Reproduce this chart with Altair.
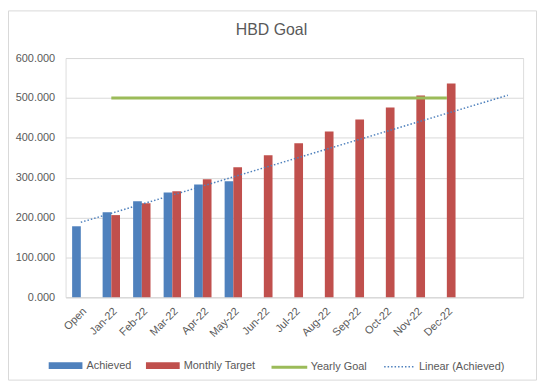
import altair as alt
import numpy as np
import pandas as pd

# ---- data ----
categories = ["Open", "Jan-22", "Feb-22", "Mar-22", "Apr-22", "May-22", "Jun-22",
              "Jul-22", "Aug-22", "Sep-22", "Oct-22", "Nov-22", "Dec-22", " ", "  "]
achieved = [178, 213, 241, 263, 283, 291, None, None, None, None, None, None, None, None, None]
monthly_target = [None, 206, 236, 266, 296, 326, 356, 386, 416, 446, 476, 506, 536, None, None]
yearly_goal = 500
goal_categories = categories[1:13]
y_ticks = [0, 100, 200, 300, 400, 500, 600]
series_names = ["Achieved", "Monthly Target"]
goal_name = "Yearly Goal"
trend_name = "Linear (Achieved)"

# ---- tables ----
rows = []
for c, a, t in zip(categories, achieved, monthly_target):
    if a is not None:
        rows.append({"cat": c, "series": "Achieved", "value": a})
    if t is not None:
        rows.append({"cat": c, "series": "Monthly Target", "value": t})
bars_df = pd.DataFrame(rows)

goal_df = pd.DataFrame({"cat": goal_categories, "value": [yearly_goal] * len(goal_categories), "name": goal_name})

# linear trendline (least squares over the achieved points), over all categories
idx = np.arange(1, len(categories) + 1)
valid = [i for i, a in enumerate(achieved) if a is not None]
coef = np.polyfit(idx[valid], np.array([achieved[i] for i in valid], dtype=float), 1)
trend_df = pd.DataFrame({"cat": categories, "value": np.polyval(coef, idx), "name": trend_name})

FONT = "Liberation Sans"
TXT = "#595959"
GRID = "#D9D9D9"

xscale = alt.Scale(domain=categories, paddingInner=0.43, paddingOuter=0.215)
yscale = alt.Scale(domain=[0, 600], nice=False)

x_enc = alt.X("cat:N", scale=xscale, sort=categories,
              axis=alt.Axis(title=None, labelAngle=-45, labelFontSize=11, labelColor=TXT,
                            labelFont=FONT, ticks=False, domainColor=GRID, grid=False,
                            labelPadding=8))
y_enc = alt.Y("value:Q", scale=yscale,
              axis=alt.Axis(title=None, values=y_ticks, format=".3f", labelFontSize=11,
                            labelColor=TXT, labelFont=FONT, labelPadding=11, ticks=False,
                            domain=False, grid=True, gridColor=GRID))

border = alt.Chart(alt.Data(values=[{"a": 1}])).mark_rect(
    filled=False, stroke=GRID, strokeWidth=1
).encode(x=alt.value(-57.5), x2=alt.value(474.5), y=alt.value(-47.5), y2=alt.value(324.5))

bars = alt.Chart(bars_df).mark_bar().encode(
    x=x_enc,
    y=y_enc,
    xOffset=alt.XOffset("series:N", scale=alt.Scale(domain=series_names, paddingInner=0, paddingOuter=0)),
    color=alt.Color("series:N",
                    scale=alt.Scale(domain=series_names, range=["#4F81BD", "#C0504D"]),
                    legend=alt.Legend(title=None, orient="none", legendX=-17, legendY=293,
                                      direction="horizontal",
                                      symbolType="M-1,-0.2H1V0.2H-1Z", symbolSize=1156,
                                      symbolStrokeWidth=0, labelOffset=4, columnPadding=14,
                                      labelFontSize=11, labelColor=TXT, labelFont=FONT)),
)

goal = alt.Chart(goal_df).mark_line(strokeWidth=3).encode(
    x=alt.X("cat:N", scale=xscale, sort=categories),
    y=alt.Y("value:Q", scale=yscale),
    stroke=alt.Stroke("name:N", scale=alt.Scale(domain=[goal_name], range=["#9BBB59"]),
                      legend=alt.Legend(title=None, orient="none", legendX=206, legendY=292,
                                        symbolType="stroke", symbolSize=1296,
                                        symbolStrokeWidth=3, labelOffset=2,
                                        labelFontSize=11, labelColor=TXT, labelFont=FONT)),
)

trend = alt.Chart(trend_df).mark_line(strokeWidth=1.5, color="#4F81BD").encode(
    x=alt.X("cat:N", scale=xscale, sort=categories),
    y=alt.Y("value:Q", scale=yscale),
    strokeDash=alt.StrokeDash("name:N", scale=alt.Scale(domain=[trend_name], range=[[1.5, 2]]),
                              legend=alt.Legend(title=None, orient="none", legendX=320, legendY=295,
                                                symbolType="stroke", symbolSize=900,
                                                symbolStrokeColor="#4F81BD", symbolStrokeWidth=1.5,
                                                labelOffset=4,
                                                labelFontSize=11, labelColor=TXT, labelFont=FONT)),
)

chart = alt.layer(border, bars, goal, trend).resolve_legend(
    color="independent", stroke="independent", strokeDash="independent"
).properties(
    width=461,
    height=241,
    padding={"left": 58, "top": 49, "right": 14, "bottom": 85},
    autosize=alt.AutoSizeParams(type="none"),
    title=alt.TitleParams("HBD Goal", fontSize=16, color=TXT, font=FONT, fontWeight="normal",
                          anchor="middle", frame="group", dx=-23, offset=-28),
).configure_view(stroke="transparent", strokeWidth=0).configure(background="white")

chart.save("out.html", embed_options={"renderer": "svg", "actions": False})
